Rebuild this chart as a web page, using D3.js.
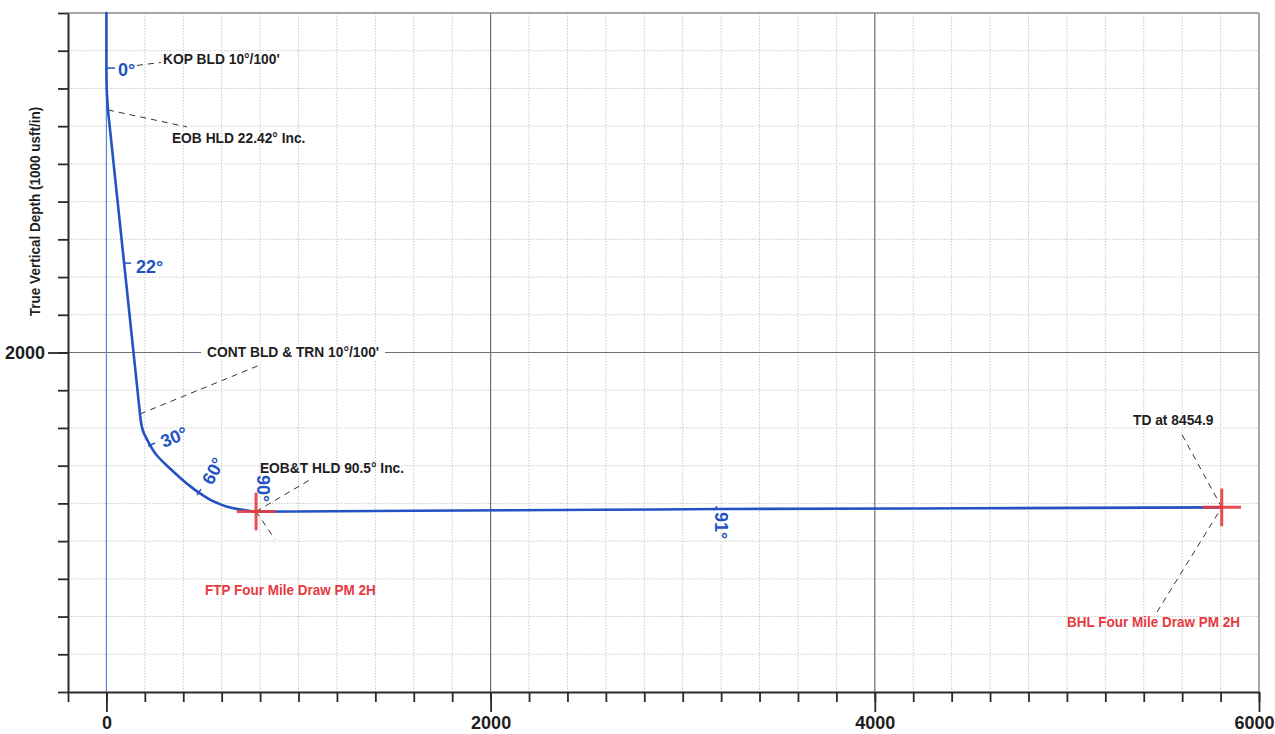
<!DOCTYPE html>
<html>
<head>
<meta charset="utf-8">
<script src="https://cdn.jsdelivr.net/npm/d3@7"></script>
<style>
  html, body { margin: 0; padding: 0; background: #ffffff; }
  svg { display: block; font-family: "Liberation Sans", Arial, Helvetica, sans-serif; }
</style>
</head>
<body>
<svg id="chart" width="1275" height="734"></svg>
<script>
// ---------------- data ----------------
// Well path: vertical section (usft) and true vertical depth (usft)
const pathVS  = [0, 0, 2, 8, 175, 192, 218, 262, 331, 418, 487, 574, 661, 774, 1600, 2569, 3194, 4500, 5806];
const pathTVD = [200, 500, 610, 714, 2328, 2420, 2474, 2545, 2615, 2694, 2747, 2797, 2826, 2844, 2839, 2834, 2830, 2826, 2821];
// sections: [start index, end index, kind]
const sections = [[0, 3, "curveY"], [3, 4, "straight"], [4, 13, "curveY"], [13, 18, "curveX"]];

// Target markers (FTP and BHL)
const targetNames = ["FTP Four Mile Draw PM 2H", "BHL Four Mile Draw PM 2H"];
const targetVS    = [779, 5806];
const targetTVD   = [2843, 2821];

// Axis tick values and labels
const xMinorTicks = d3.range(-200, 6001, 200);
const xMajorTicks = [0, 2000, 4000, 6000];
const yMinorTicks = d3.range(200, 3801, 200);
const yMajorTicks = [2000];
const yTitle = "True Vertical Depth (1000 usft/in)";

// Inclination labels along the path
const incLabels = ["0°", "22°", "30°", "60°", "90°", "91°"];

// Section annotations
const noteTexts = ["KOP BLD 10°/100'", "EOB HLD 22.42° Inc.", "CONT BLD & TRN 10°/100'", "EOB&T HLD 90.5° Inc.", "TD at 8454.9"];

// ---------------- layout ----------------
const svg = d3.select("#chart");
const x = d3.scaleLinear().domain([-200, 6000]).range([68, 1259]);
const y = d3.scaleLinear().domain([200, 3800]).range([13, 692]);

const BLUE = "#2352c2", LBLUE = "#5a86d8", RED = "#e63a3f", INK = "#1e1e1e";

// minor dotted grid
svg.append("g").selectAll("line").data(xMinorTicks.filter(d => d > -200 && d < 6000 && d % 2000 !== 0))
  .join("line").attr("x1", d => x(d)).attr("x2", d => x(d)).attr("y1", y(200)).attr("y2", y(3800))
  .attr("stroke", "#c8c8c8").attr("stroke-width", 1).attr("stroke-dasharray", "1.5,1.5");
svg.append("g").selectAll("line").data(yMinorTicks.filter(d => d > 200 && d < 3800 && d !== 2000))
  .join("line").attr("y1", d => y(d)).attr("y2", d => y(d)).attr("x1", x(-200)).attr("x2", x(6000))
  .attr("stroke", "#c8c8c8").attr("stroke-width", 1).attr("stroke-dasharray", "1.5,1.5");

// major grid
svg.append("g").selectAll("line").data([2000, 4000])
  .join("line").attr("x1", d => x(d)).attr("x2", d => x(d)).attr("y1", y(200)).attr("y2", y(3800))
  .attr("stroke", "#707070").attr("stroke-width", 1.2);
svg.append("g").selectAll("line").data(yMajorTicks)
  .join("line").attr("y1", d => y(d)).attr("y2", d => y(d)).attr("x1", x(-200)).attr("x2", x(6000))
  .attr("stroke", "#707070").attr("stroke-width", 1.2);

// frame top/right
svg.append("line").attr("x1", x(-200)).attr("x2", x(6000)).attr("y1", y(200)).attr("y2", y(200))
  .attr("stroke", "#8a8a8a").attr("stroke-width", 1.5);
svg.append("line").attr("x1", x(6000)).attr("x2", x(6000)).attr("y1", y(200)).attr("y2", y(3800))
  .attr("stroke", "#8a8a8a").attr("stroke-width", 1.5);

// VS = 0 reference line
svg.append("line").attr("x1", x(0)).attr("x2", x(0)).attr("y1", y(200)).attr("y2", y(3800))
  .attr("stroke", LBLUE).attr("stroke-width", 1.2);

// axes
function styleAxis(g) {
  g.select(".domain").attr("stroke", "#2a2a2a").attr("stroke-width", 2);
  g.selectAll(".tick line").attr("stroke", "#2a2a2a").attr("stroke-width", 1.8);
  g.selectAll("text").attr("fill", INK).attr("font-weight", "bold").attr("font-size", 18);
}
svg.append("g").attr("transform", `translate(0,${y(3800)})`)
  .call(d3.axisBottom(x).tickValues(xMinorTicks).tickSize(10).tickFormat("").tickSizeOuter(0))
  .call(styleAxis);
svg.append("g").attr("transform", `translate(0,${y(3800)})`)
  .call(d3.axisBottom(x).tickValues(xMajorTicks).tickSize(20).tickPadding(4).tickFormat(d3.format("d")).tickSizeOuter(0))
  .call(styleAxis).call(g => g.select(".domain").remove())
  .call(g => g.selectAll(".tick text").filter(d => d === 6000).attr("text-anchor", "end").attr("x", 15));
svg.append("g").attr("transform", `translate(${x(-200)},0)`)
  .call(d3.axisLeft(y).tickValues(yMinorTicks).tickSize(10).tickFormat("").tickSizeOuter(0))
  .call(styleAxis);
svg.append("g").attr("transform", `translate(${x(-200)},0)`)
  .call(d3.axisLeft(y).tickValues(yMajorTicks).tickSize(20).tickPadding(3).tickFormat(d3.format("d")).tickSizeOuter(0))
  .call(styleAxis).call(g => g.select(".domain").remove());

// y title
svg.append("text").attr("transform", `translate(40,${(y(200) + y(3800)) / 2 - 141}) rotate(-90) scale(1,1.1)`)
  .attr("text-anchor", "middle").attr("font-size", 13.5).attr("font-weight", "bold").attr("fill", INK)
  .text(yTitle);

// leaders (dashed)
function leader(a, b) {
  svg.append("line").attr("x1", x(a[0])).attr("y1", y(a[1])).attr("x2", x(b[0])).attr("y2", y(b[1]))
    .attr("stroke", "#333").attr("stroke-width", 1).attr("stroke-dasharray", "6,5");
}
leader([159, 478], [284, 462]);
leader([8, 714], [419, 804]);
leader([175, 2326], [800, 2066]);
leader([targetVS[0], targetTVD[0]], [1076, 2665]);
leader([targetVS[0], targetTVD[0]], [877, 2990]);
leader([5600, 2437], [targetVS[1], targetTVD[1]]);
leader([5469, 3376], [targetVS[1], targetTVD[1]]);

// note texts
function note(t, vs, tvd, color, size, bg) {
  const el = svg.append("text").attr("transform", `translate(${x(vs)},${y(tvd)}) scale(1,1.12)`)
    .attr("dy", "0.35em")
    .attr("font-size", size).attr("font-weight", "bold").attr("fill", color).text(t);
  if (bg) {
    const b = el.node().getBBox();
    svg.insert("rect", () => el.node()).attr("x", x(vs) + b.x - 6).attr("y", y(tvd) + b.y * 1.12)
      .attr("width", b.width + 12).attr("height", b.height * 1.12).attr("fill", "#fff");
  }
}
note(noteTexts[0], 295, 439, INK, 13.8);
note(noteTexts[1], 341, 863, INK, 13.8);
note(noteTexts[2], 524, 1997, INK, 13.8, true);
note(noteTexts[3], 799, 2612, INK, 13.8);
note(noteTexts[4], 5344, 2353, INK, 13.8);
note(targetNames[0], 513, 3259, RED, 13.5);
note(targetNames[1], 5001, 3429, RED, 13.5);

// well path, drawn section by section
const curves = { curveY: d3.curveMonotoneY, curveX: d3.curveMonotoneX, straight: d3.curveLinear };
const pathD = sections.map(([a, b, kind]) =>
  d3.line().curve(curves[kind]).x(i => x(pathVS[i])).y(i => y(pathTVD[i]))(d3.range(a, b + 1))
).join("");
svg.append("path").attr("d", pathD).attr("fill", "none").attr("stroke", BLUE)
  .attr("stroke-width", 2.6).attr("stroke-linejoin", "round").attr("stroke-linecap", "round");

// inclination ticks and labels
function incTick(a, b) {
  svg.append("line").attr("x1", x(a[0])).attr("y1", y(a[1])).attr("x2", x(b[0])).attr("y2", y(b[1]))
    .attr("stroke", BLUE).attr("stroke-width", 1.5);
}
incTick([3, 492], [45, 492]);
incTick([92, 1526], [128, 1526]);
incTick([217, 2496], [253, 2480]);
incTick([472, 2756], [492, 2724]);
incTick([3160, 2836], [3180, 2815]);
function incText(t, vs, tvd, rot, anchor) {
  svg.append("text").attr("transform", `translate(${x(vs)},${y(tvd)}) rotate(${rot})`)
    .attr("text-anchor", anchor).attr("dy", rot === 90 ? "0" : "0.35em")
    .attr("font-size", 18).attr("font-weight", "bold").attr("fill", BLUE).text(t);
}
incText(incLabels[0], 60, 502, 0, "start");
incText(incLabels[1], 154, 1547, 0, "start");
incText(incLabels[2], 352, 2448, -22, "middle");
incText(incLabels[3], 555, 2628, -62, "middle");
incText(incLabels[4], 786, 2650, 90, "start");
incText(incLabels[5], 3168, 2845, 90, "start");

// target crosses
targetVS.forEach((vs, i) => {
  const tvd = targetTVD[i];
  svg.append("line").attr("x1", x(vs - 100)).attr("x2", x(vs + 100)).attr("y1", y(tvd)).attr("y2", y(tvd))
    .attr("stroke", RED).attr("stroke-width", 3).attr("opacity", 0.9);
  svg.append("line").attr("x1", x(vs)).attr("x2", x(vs)).attr("y1", y(tvd - 100)).attr("y2", y(tvd + 100))
    .attr("stroke", RED).attr("stroke-width", 3).attr("opacity", 0.9);
});
</script>
</body>
</html>
